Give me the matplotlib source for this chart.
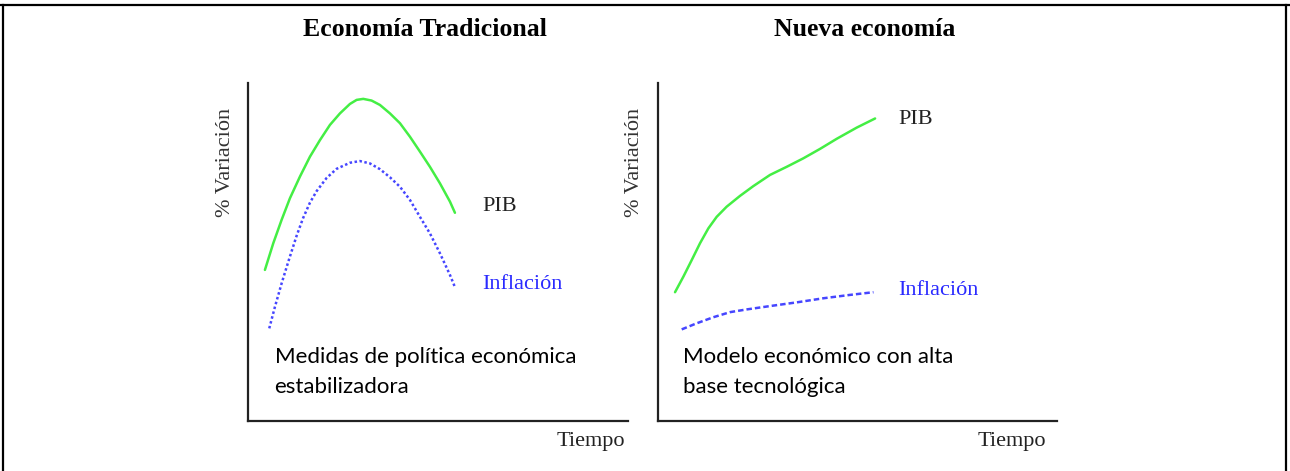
import matplotlib
matplotlib.use("Agg")
import matplotlib.pyplot as plt
from matplotlib.lines import Line2D

# --- datos (tiempo, % variacion en unidades arbitrarias 0-100)
trad_t_pib = [4.47, 6.67, 8.86, 11.05, 13.68, 16.32, 18.95, 21.58, 24.21, 26.84, 28.6,
              30.35, 32.54, 34.74, 37.37, 40.0, 42.63, 45.26, 47.89, 50.53, 53.16, 54.47]
trad_pib = [44.7, 52.6, 59.5, 65.9, 72.3, 78.2, 83.1, 87.6, 91.0, 93.8, 95.0,
            95.3, 94.8, 93.5, 91.0, 88.1, 84.1, 79.7, 75.2, 70.3, 64.9, 61.6]
trad_t_inf = [5.61, 7.11, 8.86, 10.61, 12.81, 14.5, 16.32, 18.07, 20.7, 23.33, 26.84, 29.47,
              32.1, 34.74, 37.37, 40.0, 42.63, 45.26, 47.89, 50.53, 53.16, 54.47]
trad_inf = [27.4, 33.8, 40.7, 47.1, 54.8, 60.0, 64.6, 68.0, 71.9, 74.6, 76.4, 76.9,
            76.2, 74.5, 72.1, 69.3, 65.4, 60.4, 55.5, 49.6, 43.2, 39.6]

nueva_t_pib = [4.26, 6.35, 8.44, 10.53, 12.62, 14.7, 17.2, 20.55, 23.9, 28.07, 32.25,
               36.4, 40.6, 44.8, 49.8, 54.4]
nueva_pib = [38.1, 42.7, 47.6, 52.6, 57.0, 60.4, 63.4, 66.6, 69.5, 72.8, 75.2,
             77.7, 80.5, 83.5, 86.8, 89.5]
nueva_t_inf = [5.93, 9.69, 13.87, 18.05, 22.2, 28.07, 34.8, 41.4, 48.1, 54.0]
nueva_inf = [27.1, 28.9, 30.7, 32.2, 33.0, 34.0, 35.1, 36.3, 37.3, 38.1]

titulos = ["Economía Tradicional", "Nueva economía"]
notas = ["Medidas de política económica\nestabilizadora",
         "Modelo económico con alta\nbase tecnológica"]

VERDE = "#44ee44"
AZUL = "#4646ff"
SERIF = "Liberation Serif"
SANS = "Lato"

fig = plt.figure(figsize=(12.9, 4.71), dpi=100)

# marco de la figura (arriba, izquierda, derecha)
for xs, ys in [([0.0, 1.0], [0.989, 0.989]),
               ([0.0025, 0.0025], [0.0, 0.989]),
               ([0.9968, 0.9968], [0.0, 0.989])]:
    fig.add_artist(Line2D(xs, ys, color="black", lw=1.6, transform=fig.transFigure))

ax1 = fig.add_axes([0.1922, 0.1062, 0.2946, 0.7176])
ax2 = fig.add_axes([0.5101, 0.1062, 0.3093, 0.7176])

paneles = [
    (ax1, trad_t_pib, trad_pib, trad_t_inf, trad_inf, (0, (1.0, 1.0)),
     (27, 6), (27, 3), 0.992, -13),
    (ax2, nueva_t_pib, nueva_pib, nueva_t_inf, nueva_inf, (0, (2.2, 1.2)),
     (23, -1), (25, 2), 0.972, -14),
]

for i, (ax, tp, p, ti, inf, estilo, off_p, off_i, xt, ylx) in enumerate(paneles):
    ax.plot(tp, p, color=VERDE, lw=1.8, solid_capstyle="round", solid_joinstyle="round")
    ax.plot(ti, inf, color=AZUL, lw=1.8, ls=estilo)
    ax.set_xlim(0, 100)
    ax.set_ylim(0, 100)
    ax.set_xticks([])
    ax.set_yticks([])
    for s in ["top", "right"]:
        ax.spines[s].set_visible(False)
    for s in ["left", "bottom"]:
        ax.spines[s].set_linewidth(1.6)
        ax.spines[s].set_color("#222222")
    ax.set_facecolor("none")

    ax.annotate("PIB", (tp[-1], p[-1]), xytext=off_p, textcoords="offset pixels",
                ha="left", va="center", family=SERIF, fontsize=16, color="#222222")
    ax.annotate("Inflación", (ti[-1], inf[-1]), xytext=off_i, textcoords="offset pixels",
                ha="left", va="center", family=SERIF, fontsize=16, color="#2a2aff")

    ax.text(0.07 if i == 0 else 0.063, 0.218, notas[i], transform=ax.transAxes,
            ha="left", va="top", family=SANS, fontsize=16, linespacing=1.62,
            color="black")
    ax.text(xt, -0.06, "Tiempo", transform=ax.transAxes, ha="right", va="center",
            family=SERIF, fontsize=16, color="#222222")
    ax.set_ylabel("% Variación", family=SERIF, fontsize=16, color="#333333")
    ax.yaxis.set_label_coords(ylx / (380 if i == 0 else 399), 0.766)

fig.text(425 / 1290, 1 - 30 / 471, titulos[0], ha="center", va="center",
         family=SERIF, fontsize=18.5, fontweight="bold")
fig.text(865 / 1290, 1 - 30 / 471, titulos[1], ha="center", va="center",
         family=SERIF, fontsize=18.5, fontweight="bold")

fig.savefig("out.png", dpi=100, facecolor="white")
